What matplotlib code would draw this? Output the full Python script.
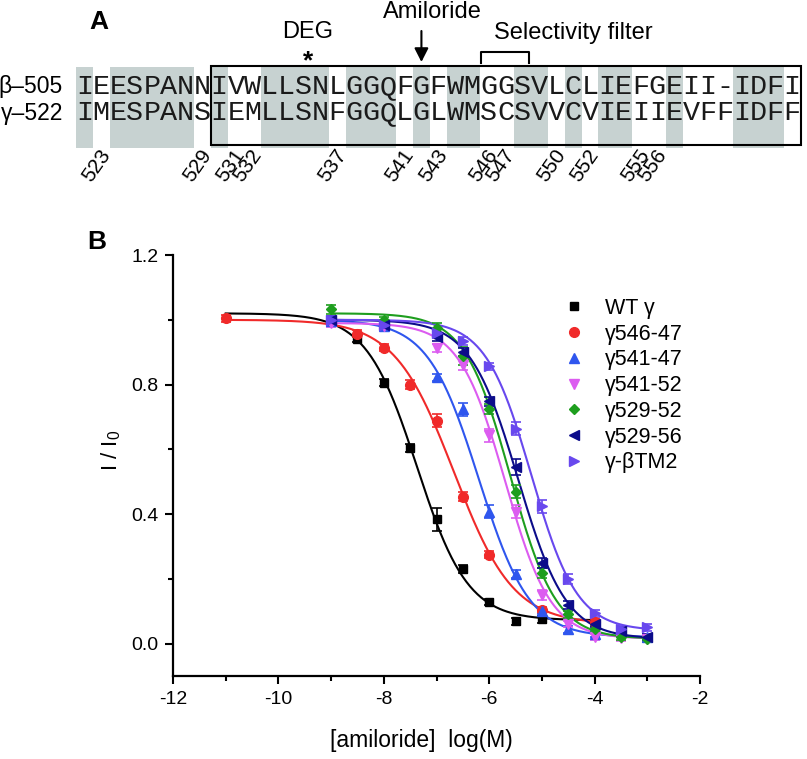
import numpy as np
import matplotlib.pyplot as plt
from matplotlib.patches import Rectangle
from matplotlib.lines import Line2D

plt.rcParams['font.family'] = ['Liberation Sans', 'DejaVu Sans']
plt.rcParams['mathtext.fontset'] = 'custom'
plt.rcParams['mathtext.rm'] = 'Liberation Sans'
plt.rcParams['mathtext.it'] = 'Liberation Sans:italic'
plt.rcParams['axes.unicode_minus'] = False

# ---- panel A: alignment ----
seq_beta = "IEESPANNIVWLLSNLGGQFGFWMGGSVLCLIEFGEII-IDFI"
seq_gamma = "IMESPANSIEMLLSNFGGQLGLWMSCSVVCVIEIIEVFFIDFF"
shaded_cols = [0, 2, 3, 4, 5, 6, 8, 11, 12, 13, 14, 16, 17, 18, 20, 22, 23,
               26, 27, 29, 31, 32, 35, 39, 40, 41]
res_numbers = [523, 529, 531, 532, 537, 541, 543, 546, 547, 550, 552, 555, 556]
gamma_first = 522

# ---- panel B: amiloride dose response ----
labels = ['WT \u03b3', '\u03b3546-47', '\u03b3541-47', '\u03b3541-52',
          '\u03b3529-52', '\u03b3529-56', '\u03b3-\u03b2TM2']
colors = ['#000000', '#f02a2a', '#2f56ee', '#dc5cf0', '#1e9e1e', '#0c0c8a', '#6848ee']
markers = ['s', 'o', '^', 'v', 'D', '<', '>']
msizes = [6.3, 7, 7, 7, 5.3, 7, 7]

x_wt = [-8.5, -8, -7.5, -7, -6.5, -6, -5.5, -5]
y_wt = [0.942, 0.806, 0.603, 0.384, 0.230, 0.129, 0.069, 0.075]
e_wt = [0.01, 0.01, 0.012, 0.036, 0.012, 0.01, 0.01, 0.01]

x_546 = [-11, -8.5, -8, -7.5, -7, -6.5, -6, -5, -4]
y_546 = [1.004, 0.957, 0.914, 0.800, 0.688, 0.454, 0.275, 0.104, 0.066]
e_546 = [0.01, 0.01, 0.01, 0.015, 0.02, 0.015, 0.012, 0.01, 0.01]

x_541_47 = [-9, -8, -7, -6.5, -6, -5.5, -5, -4.5, -4, -3]
y_541_47 = [0.995, 0.980, 0.822, 0.724, 0.407, 0.214, 0.100, 0.044, 0.030, 0.020]
e_541_47 = [0.012, 0.012, 0.01, 0.02, 0.02, 0.012, 0.01, 0.01, 0.01, 0.01]

x_541_52 = [-9, -8, -7, -6.5, -6, -5.5, -5, -4.5, -4, -3.5, -3]
y_541_52 = [0.990, 0.980, 0.914, 0.860, 0.644, 0.407, 0.150, 0.060, 0.020, 0.018, 0.015]
e_541_52 = [0.012, 0.012, 0.012, 0.015, 0.02, 0.02, 0.015, 0.01, 0.01, 0.01, 0.01]

x_529_52 = [-9, -8, -7, -6.5, -6, -5.5, -5, -4.5, -4, -3.5, -3]
y_529_52 = [1.032, 0.998, 0.975, 0.887, 0.724, 0.469, 0.219, 0.090, 0.045, 0.020, 0.015]
e_529_52 = [0.015, 0.012, 0.015, 0.028, 0.015, 0.02, 0.015, 0.01, 0.01, 0.01, 0.01]

x_529_56 = [-9, -8, -7, -6.5, -6, -5.5, -5, -4.5, -4, -3.5, -3]
y_529_56 = [1.000, 0.985, 0.947, 0.900, 0.748, 0.545, 0.248, 0.120, 0.060, 0.040, 0.020]
e_529_56 = [0.012, 0.012, 0.012, 0.012, 0.015, 0.025, 0.015, 0.012, 0.01, 0.01, 0.01]

x_tm2 = [-9, -8, -7, -6.5, -6, -5.5, -5, -4.5, -4, -3.5, -3]
y_tm2 = [1.000, 0.985, 0.960, 0.935, 0.856, 0.664, 0.424, 0.200, 0.093, 0.045, 0.050]
e_tm2 = [0.012, 0.012, 0.012, 0.012, 0.012, 0.02, 0.02, 0.015, 0.012, 0.01, 0.01]

xs = [x_wt, x_546, x_541_47, x_541_52, x_529_52, x_529_56, x_tm2]
ys = [y_wt, y_546, y_541_47, y_541_52, y_529_52, y_529_56, y_tm2]
es = [e_wt, e_546, e_541_47, e_541_52, e_529_52, e_529_56, e_tm2]

# Hill fit parameters
fit_top = [1.02, 1.00, 1.00, 0.99, 1.02, 1.00, 1.00]
fit_bottom = [0.072, 0.06, 0.02, 0.015, 0.015, 0.015, 0.04]
fit_logic50 = [-7.37, -6.67, -6.2, -5.7, -5.6, -5.45, -5.2]
fit_hill = [0.9, 0.77, 0.9, 1.0, 1.0, 0.95, 1.0]
fit_from = [-11, -11, -9, -9, -9, -9, -9]
fit_to = [-4, -4, -3, -3, -3, -3, -3]

W, H = 807, 759
fig = plt.figure(figsize=(W / 100, H / 100), dpi=100)

# overlay axes in pixel units for panel A
axA = fig.add_axes([0, 0, 1, 1])
axA.set_xlim(0, W)
axA.set_ylim(H, 0)
axA.axis('off')

x0 = 76.0
cw = 16.85
row_y = [87, 113.5]

# shading, merged into runs
runs = []
for c in shaded_cols:
    if runs and runs[-1][1] == c - 1:
        runs[-1][1] = c
    else:
        runs.append([c, c])
for a, b in runs:
    axA.add_patch(Rectangle((x0 + a * cw, 67), (b - a + 1) * cw, 81,
                            facecolor='#c7d2d1', edgecolor='none', zorder=1))

axA.add_patch(Rectangle((x0 + 8 * cw, 66), 35 * cw, 79, facecolor='none',
                        edgecolor='black', lw=1.5, zorder=3))

for r, seq in enumerate([seq_beta, seq_gamma]):
    for i, ch in enumerate(seq):
        axA.text(x0 + (i + 0.5) * cw, row_y[r], ch, family='Liberation Mono',
                 fontsize=20.5, ha='center', va='center', color='#1a1a1a', zorder=2)

axA.text(63, row_y[0], '\u03b2\u2013505', fontsize=16.5, ha='right', va='center')
axA.text(63, row_y[1], '\u03b3\u2013522', fontsize=16.5, ha='right', va='center')

for n in res_numbers:
    c = n - gamma_first
    axA.text(x0 + (c + 0.5) * cw - 5, 146, str(n), fontsize=15, rotation=55,
             ha='center', va='top')

axA.text(99, 22, 'A', fontsize=19, fontweight='bold', ha='center', va='center')
axA.text(308, 32, 'DEG', fontsize=17, ha='center', va='center')
axA.text(308, 61, '*', fontsize=19, fontweight='bold', ha='center', va='center')
axA.text(432, 12, 'Amiloride', fontsize=17, ha='center', va='center')
xa = x0 + 20.5 * cw
axA.annotate('', xy=(xa, 62), xytext=(xa, 31),
             arrowprops=dict(arrowstyle='-|>,head_length=0.55,head_width=0.28',
                             mutation_scale=15, color='black', lw=1.5,
                             shrinkA=0, shrinkB=0))
bx1, bx2 = x0 + 24.05 * cw, x0 + 26.9 * cw
axA.plot([bx1, bx1, bx2, bx2], [63, 51.5, 51.5, 63], color='black', lw=1.5)
axA.text(573, 33, 'Selectivity filter', fontsize=17, ha='center', va='center')

# ---- panel B ----
axB = fig.add_axes([173 / W, 1 - 676 / H, 527 / W, 421 / H])
handles = []
for i in range(len(labels)):
    xc = np.linspace(fit_from[i], fit_to[i], 300)
    yc = fit_bottom[i] + (fit_top[i] - fit_bottom[i]) / (1 + 10 ** ((xc - fit_logic50[i]) * fit_hill[i]))
    axB.plot(xc, yc, color=colors[i], lw=1.5, zorder=2)
for i in range(len(labels)):
    axB.errorbar(xs[i], ys[i], yerr=es[i], fmt=markers[i], color=colors[i],
                 ms=msizes[i], capsize=3.5, elinewidth=1.2, capthick=1.2,
                 mec=colors[i], zorder=3)
    handles.append(Line2D([], [], ls='none', marker=markers[i], color=colors[i],
                          ms=msizes[i]))

axB.set_xlim(-12, -2)
axB.set_ylim(-0.1, 1.2)
axB.spines['top'].set_visible(False)
axB.spines['right'].set_visible(False)
axB.spines['left'].set_linewidth(1.6)
axB.spines['bottom'].set_linewidth(1.6)
axB.set_yticks([0, 0.4, 0.8, 1.2])
axB.set_yticklabels(['0.0', '0.4', '0.8', '1.2'])
axB.set_yticks([0.2, 0.6, 1.0], minor=True)
axB.set_xticks([-12, -10, -8, -6, -4, -2])
axB.set_xticks([-11, -9, -7, -5, -3], minor=True)
axB.tick_params(which='major', length=5.5, width=1.5, labelsize=14, pad=5)
axB.tick_params(which='minor', length=3.5, width=1.5)

axB.legend(handles, labels, loc='upper left', frameon=False, fontsize=15.5,
           bbox_to_anchor=(563 / W, 1 - 298 / H), bbox_transform=fig.transFigure,
           borderaxespad=0, borderpad=0, handlelength=1.0, handletextpad=0.95,
           labelspacing=0.22)

fig.text(97 / W, 1 - 242 / H, 'B', fontsize=19, fontweight='bold', ha='center', va='center')
fig.text(111 / W, 1 - 450 / H, 'I / I$_0$', fontsize=16, rotation=90, ha='center', va='center')
fig.text(421 / W, 1 - 740 / H, '[amiloride]  log(M)', fontsize=16.5, ha='center', va='center')

fig.savefig('out.png', dpi=100)
